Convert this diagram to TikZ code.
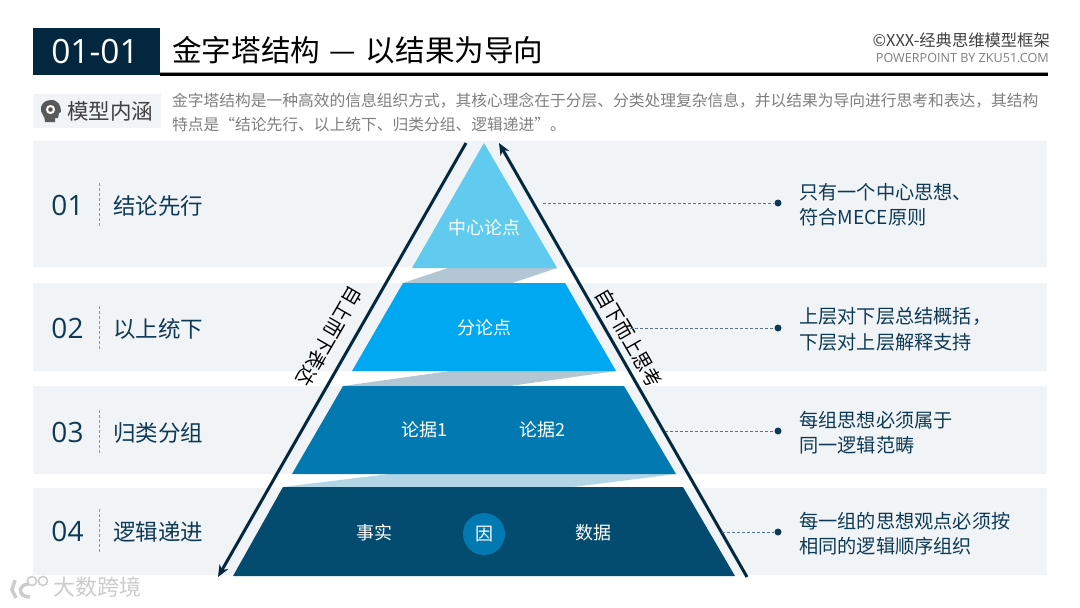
\documentclass[tikz,border=0pt]{standalone}
\usepackage{fontspec}
\setmainfont{Noto Sans CJK SC}
\newfontfamily\numfont{Open Sans}
\usetikzlibrary{calc,arrows.meta}
\definecolor{navy}{HTML}{02273F}
\definecolor{bandgray}{HTML}{F1F4F6}
\definecolor{tierA}{HTML}{61CBEF}
\definecolor{tierB}{HTML}{00A8F2}
\definecolor{tierC}{HTML}{0279B0}
\definecolor{tierD}{HTML}{034B6F}
\definecolor{linkA}{HTML}{B3C6D4}
\definecolor{linkB}{HTML}{B3D6E7}
\definecolor{txtgray}{HTML}{7F7F7F}
\definecolor{lblgray}{HTML}{404040}
\definecolor{numblue}{HTML}{0F3A55}
\tikzset{
  numlbl/.style={font=\numfont\fontsize{28}{28}\selectfont,text=numblue,anchor=center},
  leftlbl/.style={font=\fontsize{22.5}{22.5}\selectfont,text=numblue,anchor=west,inner sep=0pt},
  rightlbl/.style={font=\fontsize{19.2}{25.5}\selectfont,text=numblue,anchor=west,align=left,inner sep=0pt},
  tierlbl/.style={font=\fontsize{18}{18}\selectfont,text=white,inner sep=0pt},
  sidelbl/.style={font=\fontsize{18.4}{18.4}\selectfont,text=black,inner sep=0pt},
  enddot/.style={circle,fill=numblue,inner sep=0pt,minimum size=7pt},
  sidearrow/.style={draw=navy,line width=3pt,-{Stealth[length=12pt,width=10pt]}}
}
\begin{document}
\begin{tikzpicture}[x=1pt,y=-1pt]
\useasboundingbox (0,0) rectangle (1080,608);
\fill[white] (0,0) rectangle (1080,608);
\foreach \ya/\yb in {141/267,283/371,386/474,488/575}{\fill[bandgray] (33,\ya) rectangle (1047,\yb);}
\fill[navy] (33,28) rectangle (160,75);
\fill[black] (160,73) rectangle (1048,76);
\fill[black!40] (160,72) rectangle (1048,73);
\node[font=\numfont\fontsize{33.5}{33.5}\selectfont,text=white] (codelbl) at (95,52) {01-01};
\node[font=\fontsize{29.6}{29.6}\selectfont,anchor=west,inner sep=0pt] (titlelbl) at (172,50) {金字塔结构\hspace{3pt} — \hspace{3pt}以结果为导向};
\node[font=\fontsize{16.3}{16.3}\selectfont,anchor=east,inner sep=0pt,text=lblgray] (rightA) at (1050,40) {©XXX-经典思维模型框架};
\node[font=\numfont\fontsize{12.6}{12.6}\selectfont,anchor=east,inner sep=0pt,text=txtgray] (rightB) at (1049,58) {POWERPOINT BY ZKU51.COM};
\fill[bandgray] (33,94) rectangle (161,128);
\fill[black!65] (51,100) .. controls (44,100) and (40,105) .. (41,111) .. controls (42,115) and (45,116) .. (45,122) -- (55,122) -- (55,118) -- (58,118) -- (59,113) -- (61,112) .. controls (61,105) and (58,100) .. (51,100) -- cycle;
\draw[white,line width=2pt] (50.5,109.5) circle (3.5pt);
\node[font=\fontsize{21.5}{21.5}\selectfont,anchor=west,inner sep=0pt,text=lblgray] (modellbl) at (67,111) {模型内涵};
\node[font=\fontsize{15.75}{24}\selectfont,anchor=north west,inner sep=0pt,align=left,text=txtgray,text width=880pt] (introlbl) at (172,92.5) {金字塔结构是一种高效的信息组织方式，其核心理念在于分层、分类处理复杂信息，并以结果为导向进行思考和表达，其结构\\特点是“结论先行、以上统下、归类分组、逻辑递进”。};
\foreach \n/\y/\t in {01/205/结论先行,02/328/以上统下,03/432/归类分组,04/531/逻辑递进}{
  \node[numlbl] (num\n) at (67.5,\y) {\n};
  \node[leftlbl] (lbl\n) at (113,\y+0.5) {\t};
  \draw[black!40,densely dashed] (99,\y-22) -- (99,\y+23);
}
\fill[linkA] (448,268) -- (557,268) -- (512,283) -- (403,283) -- cycle;
\fill[linkA] (450,371) -- (616,371) -- (510,386) -- (343,386) -- cycle;
\fill[linkB] (389,474) -- (676,474) -- (573,487) -- (283,487) -- cycle;
\fill[tierA] (484,143) -- (557,268) -- (412,268) -- cycle;
\fill[tierB] (403,283) -- (565,283) -- (616,371) -- (352,371) -- cycle;
\fill[tierC] (343,386) -- (624,386) -- (676,474) -- (292,474) -- cycle;
\fill[tierD] (283,487) -- (683,487) -- (735,576) -- (233,576) -- cycle;
\coordinate (leftA) at (466,143); \coordinate (leftB) at (218,577);
\coordinate (rightC) at (747,577); \coordinate (rightD) at (499,143);
\draw[sidearrow] (leftA) -- (leftB);
\draw[sidearrow] (rightC) -- (rightD);
\node[sidelbl,rotate=-120,yscale=1.1] (sideL) at (330,336) {自上而下表达};
\node[sidelbl,rotate=-60,yscale=1.1] (sideR) at (629,338) {自下而上思考};
\node[tierlbl] (ptA) at (484,228) {中心论点};
\node[tierlbl] (ptB) at (484,328) {分论点};
\node[tierlbl] (ptC) at (424,430) {论据1};
\node[tierlbl] (ptD) at (542,430) {论据2};
\node[tierlbl] (ptE) at (374,533) {事实};
\node[tierlbl,circle,fill=tierC,minimum size=42pt] (ptF) at (484,534) {因};
\node[tierlbl] (ptG) at (593,533) {数据};
\foreach \n/\x/\y/\ta/\tb in {1/543/203/只有一个中心思想、/符合MECE原则,2/630/328/上层对下层总结概括，/下层对上层解释支持,3/665/431/每组思想必须属于/同一逻辑范畴,4/722/532/每一组的思想观点必须按/相同的逻辑顺序组织}{
  \coordinate (from\n) at (\x,\y);
  \node[enddot] (dot\n) at (778,\y) {};
  \draw[numblue!70,densely dashed] (from\n) -- (dot\n);
  \node[rightlbl] (note\n) at (799,\y+1.5) {\ta\\\tb};
}
\node[font=\fontsize{22}{22}\selectfont,anchor=west,inner sep=0pt,text=black!20] (marklbl) at (53,587) {大数跨境};
\draw[black!20,line width=3.5pt] (15,580) -- (12,590) -- (16,598) (29,584) .. controls (18,584) and (17,597) .. (30,597);
\draw[black!20,line width=1.6pt] (32,581) circle (4.5pt) (43,581) circle (4.5pt);
\end{tikzpicture}
\end{document}
